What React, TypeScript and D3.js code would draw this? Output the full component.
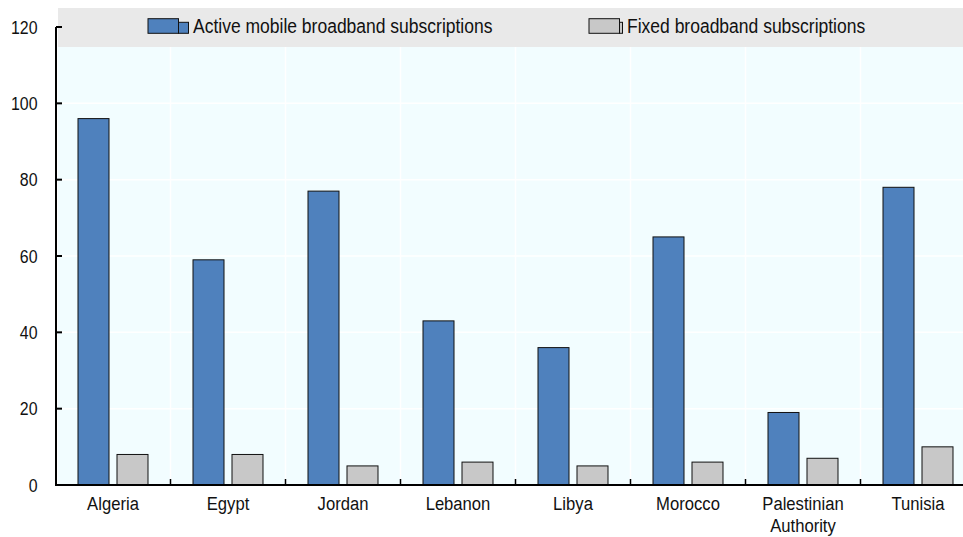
import React from "react";
import * as d3 from "d3";

const categories = ["Algeria", "Egypt", "Jordan", "Lebanon", "Libya", "Morocco", "Palestinian Authority", "Tunisia"];
const mobileValues = [96, 59, 77, 43, 36, 65, 19, 78];
const fixedValues = [8, 8, 5, 6, 5, 6, 7, 10];
const seriesNames = ["Active mobile broadband subscriptions", "Fixed broadband subscriptions"];
const seriesColors = ["#4f81bd", "#c8c8c8"];
const yTicks = [0, 20, 40, 60, 80, 100, 120];

const W = 963;
const H = 537;
const FONT = "'Liberation Sans', Arial, sans-serif";

function CText(props: { x: number; y: number; sx: number; size: number; anchor?: string; dy?: string; children: React.ReactNode }) {
  return (
    <text
      transform={`translate(${props.x},${props.y}) scale(${props.sx},1)`}
      textAnchor={props.anchor || "start"}
      dy={props.dy}
      fontSize={props.size}
      fill="#111"
    >
      {props.children}
    </text>
  );
}

export default function App() {
  const x = d3.scaleBand<string>().domain(categories).range([55.5, 975.5]).padding(0);
  const sub = d3
    .scaleBand<string>()
    .domain(seriesNames)
    .range([0, x.bandwidth()])
    .paddingInner(0.205)
    .paddingOuter(0.577);
  const y = d3.scaleLinear().domain([0, 120]).range([485, 27]);
  const series = [mobileValues, fixedValues];
  const plotLeft = 58;
  const plotTop = 8;
  const legendBottom = 47;

  return (
    <svg width={W} height={H} style={{ position: "absolute", left: 0, top: 0, background: "#fff" }} fontFamily={FONT}>
      <rect x={plotLeft} y={plotTop} width={W - plotLeft} height={y(0) - plotTop} fill="#f2fdff" />
      {yTicks.map((t) => (
        <line key={"g" + t} x1={plotLeft} x2={W} y1={y(t)} y2={y(t)} stroke="#ffffff" strokeWidth={1.5} />
      ))}
      {categories.slice(1).map((c) => (
        <line key={"v" + c} x1={x(c)!} x2={x(c)!} y1={plotTop} y2={y(0)} stroke="#ffffff" strokeWidth={1.5} />
      ))}
      <rect x={plotLeft} y={plotTop} width={W - plotLeft} height={legendBottom - plotTop} fill="#e9e9e9" />
      {categories.map((c, i) =>
        series.map((vals, s) => (
          <rect
            key={c + s}
            x={x(c)! + sub(seriesNames[s])!}
            y={y(vals[i])}
            width={sub.bandwidth()}
            height={y(0) - y(vals[i])}
            fill={seriesColors[s]}
            stroke="#111"
            strokeWidth={1}
          />
        ))
      )}
      <line x1={56} x2={56} y1={y(120)} y2={y(0)} stroke="#000" strokeWidth={2} />
      {yTicks.map((t) => (
        <g key={"t" + t}>
          <line x1={56} x2={62} y1={y(t)} y2={y(t)} stroke="#000" strokeWidth={2} />
          <CText x={37.5} y={y(t)} sx={0.86} size={18.5} anchor="end" dy="0.36em">
            {t}
          </CText>
        </g>
      ))}
      <line x1={55} x2={W} y1={y(0)} y2={y(0)} stroke="#000" strokeWidth={2} />
      {categories.slice(1).map((c) => (
        <line key={"xt" + c} x1={x(c)!} x2={x(c)!} y1={y(0)} y2={y(0) - 6} stroke="#000" strokeWidth={1.5} />
      ))}
      {categories.map((c) => {
        const words = c === "Palestinian Authority" ? ["Palestinian", "Authority"] : [c];
        const cx = x(c)! + x.bandwidth() / 2;
        return (
          <g key={"xl" + c}>
            {words.map((w, k) => (
              <CText key={k} x={cx} y={510 + k * 21.5} sx={0.9} size={18.5} anchor="middle">
                {w}
              </CText>
            ))}
          </g>
        );
      })}
      <g>
        <rect x={148} y={18.7} width={30.5} height={14.6} fill={seriesColors[0]} stroke="#111" strokeWidth={1} />
        <rect x={178.5} y={22.3} width={10} height={11} fill={seriesColors[0]} stroke="#111" strokeWidth={1} />
        <CText x={193} y={33.3} sx={0.875} size={20}>
          {seriesNames[0]}
        </CText>
      </g>
      <g>
        <rect x={589} y={18.7} width={30.5} height={14.6} fill={seriesColors[1]} stroke="#111" strokeWidth={1} />
        <rect x={619.5} y={22.3} width={3} height={11} fill={seriesColors[1]} stroke="#111" strokeWidth={1} />
        <CText x={627} y={33.3} sx={0.875} size={20}>
          {seriesNames[1]}
        </CText>
      </g>
    </svg>
  );
}
